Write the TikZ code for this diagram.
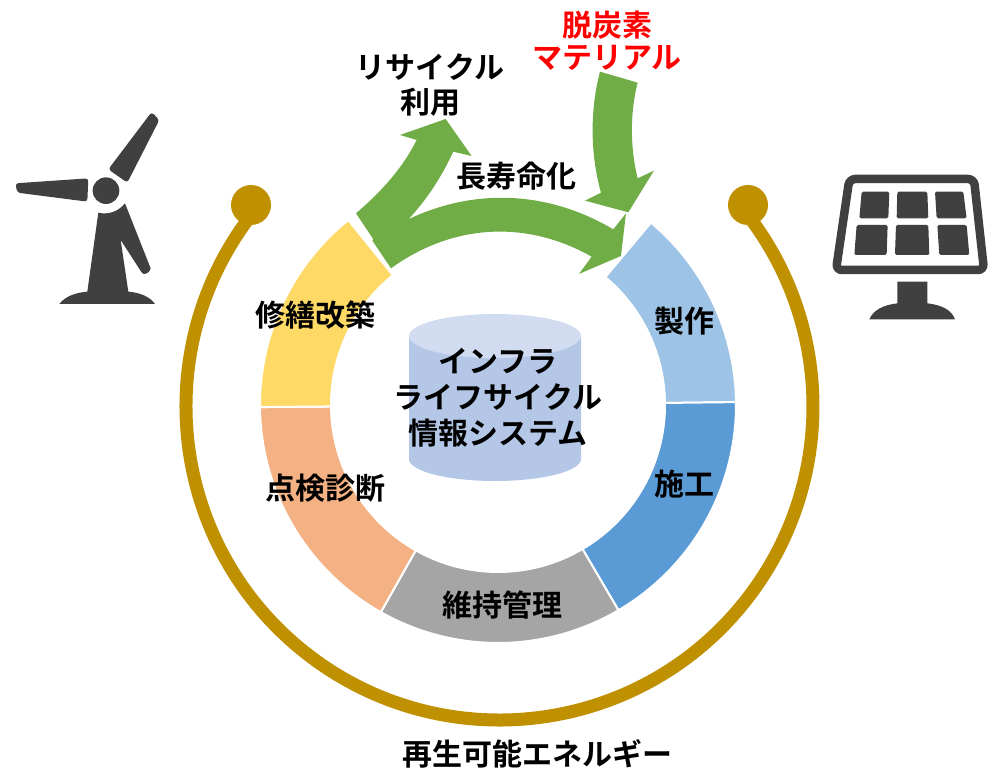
\documentclass[tikz,border=0pt]{standalone}
\usepackage{fontspec}
\setmainfont{Noto Sans CJK JP}[BoldFont={Noto Sans CJK JP Bold}]
\definecolor{gseizo}{HTML}{9DC3E6}
\definecolor{gsekou}{HTML}{5B9BD5}
\definecolor{gijiri}{HTML}{A5A5A5}
\definecolor{gtenken}{HTML}{F4B183}
\definecolor{gshuzen}{HTML}{FFD966}
\definecolor{ggreen}{HTML}{70AD47}
\definecolor{ggold}{HTML}{BF9000}
\definecolor{gicon}{HTML}{404040}
\definecolor{gcyl}{HTML}{B4C7E7}
\definecolor{gcyltop}{HTML}{D2DCF0}
\tikzset{
  lbl/.style={font=\fontsize{30}{35}\selectfont\bfseries,text=black,align=center,inner sep=0pt},
  lblred/.style={lbl,text=red},
  seg/.style={draw=white,line width=2pt},
  garrow/.style={fill=ggreen,draw=none},
  icon/.style={fill=gicon,draw=none},
}
\newcommand{\ringseg}[3]{%
  \fill[seg,fill=#3] (#1:238) arc[start angle=#1,end angle=#2,radius=238]
    -- (#2:167) arc[start angle=#2,end angle=#1,radius=167] -- cycle;}
\begin{document}
\begin{tikzpicture}[x=1pt,y=-1pt]
\useasboundingbox (0,0) rectangle (989,768);
% gold arc
\begin{scope}[shift={(499.5,406.5)},x=1pt,y=1pt]
  \draw[ggold,line width=13pt] (141:313.5) arc[start angle=141,end angle=399,radius=313.5];
\end{scope}
\node[circle,fill=ggold,minimum size=40pt,inner sep=0pt] (dotl) at (251,205) {};
\node[circle,fill=ggold,minimum size=40pt,inner sep=0pt] (dotr) at (748,205) {};
% ring
\begin{scope}[shift={(498,405)},x=1pt,y=1pt]
  \ringseg{0.7}{50}{gseizo}
  \ringseg{-59.6}{0.7}{gsekou}
  \ringseg{-119.5}{-59.6}{gijiri}
  \ringseg{-179.5}{-119.5}{gtenken}
  \ringseg{129}{180.5}{gshuzen}
\end{scope}
% green arrows (left arrow + long arrow)
\begin{scope}[shift={(340,0)},x=0.3333pt,y=-0.3333pt]
  \fill[garrow] (48,640) .. controls (130,570) and (190,500) .. (230,420)
    -- (180,405) -- (317,357) -- (395,468) -- (340,455)
    .. controls (300,540) and (255,605) .. (205,658)
    .. controls (400,565) and (620,570) .. (820,688)
    -- (858,640) -- (843,768) -- (717,822) -- (755,770)
    .. controls (560,660) and (340,670) .. (153,805)
    -- (97,722) -- (100,718) -- cycle;
  \fill[garrow] (780,215) -- (893,248)
    .. controls (870,340) and (870,440) .. (893,535)
    -- (942,512) -- (865,637) -- (735,602) -- (783,578)
    .. controls (750,460) and (750,330) .. (780,215) -- cycle;
\end{scope}
% cylinder
\fill[gcyl] (409,336) -- (409,459) arc[start angle=180,end angle=360,x radius=86,y radius=-22] -- (581,336) -- cycle;
\fill[gcyltop] (495,336) ellipse[x radius=86,y radius=22];
% labels
\node[lbl] (recy1) at (430,67) {リサイクル};
\node[lbl] (recy2) at (430,102) {利用};
\node[lblred] (dc1) at (607,25) {脱炭素};
\node[lblred] (dc2) at (607,58) {マテリアル};
\node[lbl] (life) at (516,176) {長寿命化};
\node[lbl] (seisaku) at (684,321) {製作};
\node[lbl] (sekou) at (684,484) {施工};
\node[lbl] (shuzen) at (315,315) {修繕改築};
\node[lbl] (tenken) at (325,488) {点検診断};
\node[lbl] (iji) at (502,605) {維持管理};
\node[lbl] (c1) at (498,361) {インフラ};
\node[lbl] (c2) at (498,397) {ライフサイクル};
\node[lbl] (c3) at (498,433) {情報システム};
\node[lbl] (ene) at (537,754) {再生可能エネルギー};
% wind turbine
\begin{scope}[shift={(0,100)},x=0.3333pt,y=-0.3333pt]
  \fill[icon,rounded corners=3pt] (325,208) -- (382,248) -- (478,60) -- (455,36) -- cycle;
  \fill[icon,rounded corners=3pt] (265,235) -- (262,305) -- (52,278) -- (46,250) -- cycle;
  \fill[icon] (318,272) circle[radius=40];
  \fill[icon] (295,338) .. controls (325,345) and (355,335) .. (375,310)
    -- (452,505) [rounded corners=3pt] -- (450,515) -- (430,525) [sharp corners] -- (362,420)
    -- (385,575) .. controls (420,578) and (450,590) .. (465,612)
    -- (178,612) .. controls (195,590) and (225,578) .. (262,575) -- cycle;
\end{scope}
% solar panel
\begin{scope}[shift={(820,160)},x=0.3333pt,y=-0.3333pt]
  \draw[gicon,line width=8.5pt,rounded corners=6pt] (88,57) -- (462,57) -- (492,330) -- (48,330) -- cycle;
  \fill[icon,rounded corners=1.5pt] (125,95) -- (208,95) -- (205,175) -- (118,175) -- cycle;
  \fill[icon,rounded corners=1.5pt] (232,95) -- (322,95) -- (325,175) -- (230,175) -- cycle;
  \fill[icon,rounded corners=1.5pt] (345,95) -- (430,95) -- (440,175) -- (350,175) -- cycle;
  \fill[icon,rounded corners=1.5pt] (110,195) -- (203,195) -- (200,285) -- (103,285) -- cycle;
  \fill[icon,rounded corners=1.5pt] (228,195) -- (325,195) -- (328,285) -- (225,285) -- cycle;
  \fill[icon,rounded corners=1.5pt] (352,195) -- (440,195) -- (448,285) -- (358,285) -- cycle;
  \fill[icon] (232,365) -- (322,365) -- (322,430) .. controls (365,435) and (395,450) .. (405,478)
    -- (148,478) .. controls (160,450) and (190,435) .. (232,430) -- cycle;
\end{scope}
\end{tikzpicture}
\end{document}
